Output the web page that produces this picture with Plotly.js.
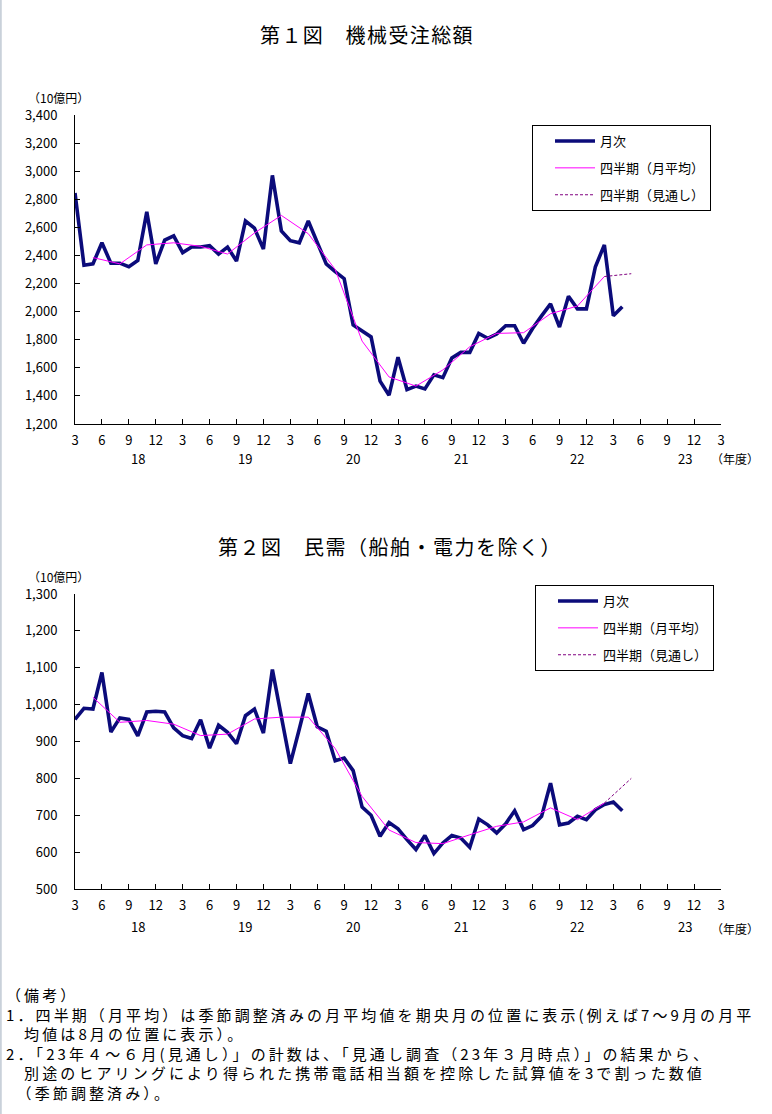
<!DOCTYPE html>
<html>
<head>
<meta charset="utf-8">
<script src="https://cdn.plot.ly/plotly-3.0.1.min.js"></script>
<style>html,body{margin:0;padding:0;background:#fff;}#chart{width:772px;height:1114px;}</style>
</head>
<body>
<div id="chart"></div>
<script>
// ---- data ----
const months = ['2018-03','2018-04','2018-05','2018-06','2018-07','2018-08','2018-09','2018-10','2018-11','2018-12','2019-01','2019-02',
  '2019-03','2019-04','2019-05','2019-06','2019-07','2019-08','2019-09','2019-10','2019-11','2019-12','2020-01','2020-02',
  '2020-03','2020-04','2020-05','2020-06','2020-07','2020-08','2020-09','2020-10','2020-11','2020-12','2021-01','2021-02',
  '2021-03','2021-04','2021-05','2021-06','2021-07','2021-08','2021-09','2021-10','2021-11','2021-12','2022-01','2022-02',
  '2022-03','2022-04','2022-05','2022-06','2022-07','2022-08','2022-09','2022-10','2022-11','2022-12','2023-01','2023-02',
  '2023-03','2023-04'];
const quarterMonths = ['2018-05','2018-08','2018-11','2019-02','2019-05','2019-08','2019-11','2020-02','2020-05','2020-08',
  '2020-11','2021-02','2021-05','2021-08','2021-11','2022-02','2022-05','2022-08','2022-11','2023-02'];
const forecastMonths = ['2023-02','2023-05'];

// 第1図 機械受注総額 (10億円)
const totalMonthly = [2845,2330,2340,2490,2345,2345,2320,2365,2710,2340,2510,2540,
  2420,2460,2460,2470,2410,2460,2360,2645,2595,2445,2970,2575,
  2505,2490,2645,2490,2340,2285,2235,1905,1865,1820,1505,1405,
  1675,1445,1470,1450,1550,1530,1670,1710,1710,1845,1810,1840,
  1900,1900,1775,1880,1970,2055,1890,2110,2020,2020,2320,2475,
  1970,2035];
const totalQuarterly = [2385,2340,2475,2490,2465,2410,2560,2685,2555,2300,1790,1535,1470,1585,1750,1845,1850,1985,2040,2250];
const totalForecast = [2250,2270];

// 第2図 民需（船舶・電力を除く） (10億円)
const privMonthly = [960,990,988,1087,926,964,960,915,980,982,980,937,
  916,908,959,882,944,925,894,970,988,923,1095,965,
  840,934,1030,940,928,848,855,821,722,700,643,680,
  663,634,607,645,596,625,645,638,613,690,674,652,
  677,712,661,672,697,787,674,679,697,688,715,729,
  736,712];
const privQuarterly = [1020,952,957,947,916,920,961,966,966,881,751,660,626,623,647,670,682,720,688,733];
const privForecast = [733,800];

const tickMonths = ['2018-03','2018-06','2018-09','2018-12','2019-03','2019-06','2019-09','2019-12','2020-03','2020-06','2020-09','2020-12',
  '2021-03','2021-06','2021-09','2021-12','2022-03','2022-06','2022-09','2022-12','2023-03','2023-06','2023-09','2023-12','2024-03'];
const tickLabels = ['3','6','9','12','3','6','9','12','3','6','9','12','3','6','9','12','3','6','9','12','3','6','9','12','3'];
const fiscalYears = ['18','19','20','21','22','23'];
const seriesNames = ['月次','四半期（月平均）','四半期（見通し）'];
const noteLines = [
  '（備考）',
  '1．四半期（月平均）は季節調整済みの月平均値を期央月の位置に表示(例えば7～9月の月平',
  '　均値は8月の位置に表示）。',
  '2．「23年４～６月(見通し）」の計数は、「見通し調査（23年３月時点）」の結果から、',
  '　別途のヒアリングにより得られた携帯電話相当額を控除した試算値を3で割った数値',
  '　（季節調整済み）。'
];

// ---- layout helpers ----
const W = 772, H = 1114;
const FONT = "'Noto Sans CJK JP', 'Noto Sans', sans-serif";
const px = v => v / W;
const py = v => 1 - v / H;
const mIdx = s => { const [y, m] = s.split('-').map(Number); return (y - 2018) * 12 + (m - 3); };
const yearLabelX = ['2018-10','2019-10','2020-10','2021-10','2022-11','2023-11'].map(mIdx);

const xM = months.map(mIdx), xQ = quarterMonths.map(mIdx), xF = forecastMonths.map(mIdx);

function traces(monthly, quarterly, forecast, xa, ya, lg) {
  return [
    {x: xM, y: monthly, xaxis: xa, yaxis: ya, legend: lg, legendgroup: lg + 'a', name: seriesNames[0], type: 'scatter', mode: 'lines',
     line: {color: '#0b0b7a', width: 3.6}, hoverinfo: 'skip'},
    {x: xQ, y: quarterly, xaxis: xa, yaxis: ya, legend: lg, legendgroup: lg + 'b', name: seriesNames[1], type: 'scatter', mode: 'lines',
     line: {color: '#ff00ff', width: 1}, hoverinfo: 'skip'},
    {x: xF, y: forecast, xaxis: xa, yaxis: ya, legend: lg, legendgroup: lg + 'c', name: seriesNames[2], type: 'scatter', mode: 'lines',
     line: {color: '#800080', width: 1, dash: '3px,2px'}, hoverinfo: 'skip'}
  ];
}

const data = [].concat(
  traces(totalMonthly, totalQuarterly, totalForecast, 'x', 'y', 'legend'),
  traces(privMonthly, privQuarterly, privForecast, 'x2', 'y2', 'legend2')
);

function xAxis(anchor) {
  return {domain: [px(75), px(721)], anchor: anchor, range: [0, 72], tickvals: tickMonths.map(mIdx), ticktext: tickLabels,
    ticks: 'inside', ticklen: 5, tickcolor: '#000', tickwidth: 1, showline: true, linecolor: '#000', linewidth: 1,
    showgrid: false, zeroline: false, tickfont: {family: FONT, size: 13, color: '#000'}, ticklabelstandoff: 4, fixedrange: true};
}
function yAxis(anchor, dom, range, dtick) {
  return {domain: dom, anchor: anchor, range: range, dtick: dtick, tickformat: ',', ticks: 'inside', ticklen: 5, tickcolor: '#000',
    showline: true, linecolor: '#000', linewidth: 1, showgrid: false, zeroline: false,
    tickfont: {family: FONT, size: 13, color: '#000'}, ticklabelstandoff: 14, fixedrange: true};
}

const ann = [];
const spacing = {};
function txt(text, x, y, size, anchor, yanchor, ls) {
  if (ls) spacing[ann.length] = ls;
  ann.push({text: text, xref: 'paper', yref: 'paper', x: px(x), y: py(y), xanchor: anchor || 'center', yanchor: yanchor || 'middle',
    align: 'left', showarrow: false, font: {family: FONT, size: size, color: '#000'}});
}
txt('第１図　機械受注総額', 258, 35, 20, 'left', 'middle', '1.4px');
txt('第２図　民需（船舶・電力を除く）', 216, 546, 20, 'left', 'middle', '1.5px');
txt('（10億円）', 59, 97, 12);
txt('（10億円）', 59, 576, 12);
txt('（年度）', 735, 458, 12);
txt('（年度）', 735, 928, 12);
fiscalYears.forEach((t, i) => {
  ann.push({text: t, xref: 'x', yref: 'paper', x: yearLabelX[i], y: py(458), xanchor: 'center', yanchor: 'middle', showarrow: false,
    font: {family: FONT, size: 13, color: '#000'}});
  ann.push({text: t, xref: 'x2', yref: 'paper', x: yearLabelX[i], y: py(926), xanchor: 'center', yanchor: 'middle', showarrow: false,
    font: {family: FONT, size: 13, color: '#000'}});
});
txt(noteLines.join('<br>'), 4, 982, 15, 'left', 'top', '3.1px');

const legendBase = {bordercolor: '#000', borderwidth: 1, bgcolor: '#fff', xanchor: 'left', yanchor: 'top',
  font: {family: FONT, size: 13, color: '#000'}, tracegroupgap: 7, itemwidth: 40, traceorder: 'grouped',
  indentation: 17};

const layout = {
  width: W, height: H, margin: {l: 0, r: 0, t: 0, b: 0}, paper_bgcolor: '#fff', plot_bgcolor: '#fff', showlegend: true,
  xaxis: xAxis('y'), yaxis: yAxis('x', [py(424), py(115)], [1200, 3400], 200),
  xaxis2: xAxis('y2'), yaxis2: yAxis('x2', [py(889), py(594)], [500, 1300], 100),
  legend: Object.assign({}, legendBase, {x: px(532), y: py(125)}),
  legend2: Object.assign({}, legendBase, {x: px(535), y: py(585)}),
  annotations: ann,
  shapes: [{type: 'line', xref: 'paper', yref: 'paper', x0: 0.001, x1: 0.001, y0: 0, y1: 1, line: {color: '#c9d1da', width: 2}}]
};

Plotly.newPlot('chart', data, layout, {displayModeBar: false, staticPlot: true}).then(gd => {
  gd.querySelectorAll('g.annotation').forEach(g => {
    const i = g.getAttribute('data-index');
    if (spacing[i]) g.querySelectorAll('text').forEach(t => { t.style.letterSpacing = spacing[i]; });
  });
});
</script>
</body>
</html>
